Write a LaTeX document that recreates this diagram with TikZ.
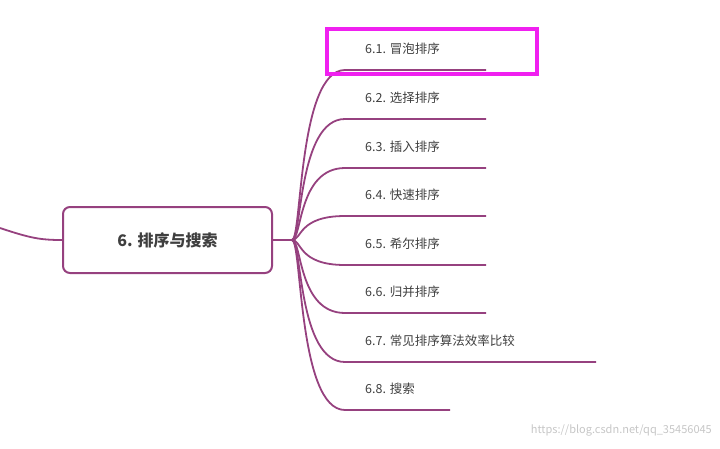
\documentclass[tikz,border=0pt]{standalone}
\usepackage{fontspec}
\setmainfont{Noto Sans CJK SC}
\definecolor{br}{HTML}{96417F}
\definecolor{tx}{HTML}{3F3F3F}
\definecolor{mg}{HTML}{F020F0}
\begin{document}
\begin{tikzpicture}[x=1pt,y=-1pt,
 br/.style={draw=br,line width=1.8pt},
 lbl/.style={anchor=west,text=tx,font=\fontsize{12.5}{14}\selectfont,inner sep=0pt}]
\useasboundingbox (0,0) rectangle (720,448);
\node[draw=br,line width=2pt,rounded corners=7pt,minimum width=209pt,minimum height=66pt,text=tx,font=\fontsize{16}{18}\selectfont\bfseries] (c) at (167.5,240) {6. 排序与搜索};
\coordinate (l) at (0,228);
\draw[br] (l) .. controls (30,238) and (40,240) .. (c.west);
\coordinate (f) at (292,240);
\draw[br] (c.east) -- (f);
\foreach \i/\y/\e/\t in {1/70/486/6.1. 冒泡排序,2/119/486/6.2. 选择排序,3/168/486/6.3. 插入排序,4/216/486/6.4. 快速排序,5/265/486/6.5. 希尔排序,6/313/486/6.6. 归并排序,7/362/596/6.7. 常见排序算法效率比较,8/410/450/6.8. 搜索}{
 \coordinate (s\i) at (345,\y);
 \coordinate (e\i) at (\e,\y);
 \node[lbl] (t\i) at (365,\y-21) {\t};
 \draw[br] (f) .. controls (302,240) and (298,\y) .. (s\i) -- (e\i);
}
\node[draw=mg,line width=4pt,minimum width=210pt,minimum height=45pt,inner sep=0pt] (hl) at (432,51.5) {};
\node[anchor=east,text=gray!45,font=\fontsize{11}{12}\selectfont,inner sep=0pt] (wm) at (712,430) {https://blog.csdn.net/qq\_35456045};
\end{tikzpicture}
\end{document}
